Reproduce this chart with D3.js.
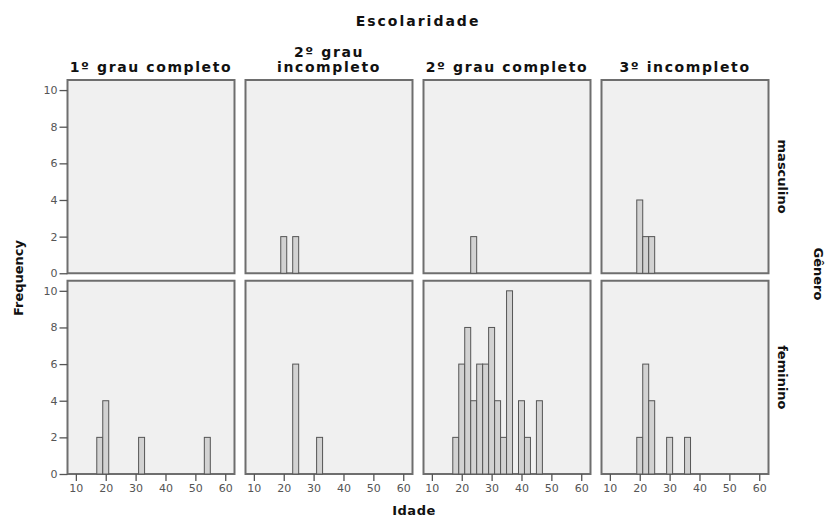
<!DOCTYPE html>
<html>
<head>
<meta charset="utf-8">
<script src="https://cdn.jsdelivr.net/npm/d3@7"></script>
<style>
  html, body { margin: 0; padding: 0; background: #ffffff; }
  svg { display: block; font-family: "DejaVu Sans", Verdana, sans-serif; }
</style>
</head>
<body>
<svg id="chart" width="833" height="522"></svg>
<script>
// ---- data ----
const escolaridade = ["1º grau completo", "2º grau|incompleto", "2º grau completo", "3º incompleto"];
const generos = ["masculino", "feminino"];
const idadeBins = [18, 20, 22, 24, 26, 28, 30, 32, 34, 36, 38, 40, 42, 44, 46, 48, 50, 52, 54];
const masc1 = [0, 0, 0, 0, 0, 0, 0, 0, 0, 0, 0, 0, 0, 0, 0, 0, 0, 0, 0];
const masc2 = [0, 2, 0, 2, 0, 0, 0, 0, 0, 0, 0, 0, 0, 0, 0, 0, 0, 0, 0];
const masc3 = [0, 0, 0, 2, 0, 0, 0, 0, 0, 0, 0, 0, 0, 0, 0, 0, 0, 0, 0];
const masc4 = [0, 4, 2, 2, 0, 0, 0, 0, 0, 0, 0, 0, 0, 0, 0, 0, 0, 0, 0];
const fem1  = [2, 4, 0, 0, 0, 0, 0, 2, 0, 0, 0, 0, 0, 0, 0, 0, 0, 0, 2];
const fem2  = [0, 0, 0, 6, 0, 0, 0, 2, 0, 0, 0, 0, 0, 0, 0, 0, 0, 0, 0];
const fem3  = [2, 6, 8, 4, 6, 6, 8, 4, 2, 10, 0, 4, 2, 0, 4, 0, 0, 0, 0];
const fem4  = [0, 2, 6, 4, 0, 0, 2, 0, 0, 2, 0, 0, 0, 0, 0, 0, 0, 0, 0];
const xTicks = [10, 20, 30, 40, 50, 60];
const yTicks = [0, 2, 4, 6, 8, 10];
const binWidth = 2;

const counts = {
  masculino: [masc1, masc2, masc3, masc4],
  feminino:  [fem1, fem2, fem3, fem4]
};

// ---- layout ----
const svg = d3.select("#chart");
const col = d3.scaleBand().domain(escolaridade).range([67.5, 768.5]).paddingInner(0.0618).paddingOuter(0);
const row = d3.scaleBand().domain(generos).range([80, 474]).paddingInner(0.0373).paddingOuter(0);
const bw = col.bandwidth(), bh = row.bandwidth();
const x = d3.scaleLinear().domain([7.2, 63.1]).range([0, bw]);
const y = d3.scaleLinear().domain([0, 10.55]).range([bh, 0]);

const titleFont = "bold 14px 'DejaVu Sans'";

generos.forEach((g, ri) => {
  escolaridade.forEach((e, ci) => {
    const p = svg.append("g").attr("transform", `translate(${col(e)},${row(g)})`);
    p.append("rect").attr("x", 0).attr("y", 0).attr("width", bw).attr("height", bh)
      .attr("fill", "#f0f0f0").attr("stroke", "#6e6e6e").attr("stroke-width", 2);
    const data = idadeBins.map((c, i) => ({ c, n: counts[g][ci][i] })).filter(d => d.n > 0);
    p.selectAll("rect.bar").data(data).enter().append("rect").attr("class", "bar")
      .attr("x", d => x(d.c - binWidth / 2))
      .attr("width", d => x(d.c + binWidth / 2) - x(d.c - binWidth / 2))
      .attr("y", d => y(d.n))
      .attr("height", d => y(0) - y(d.n))
      .attr("fill", "#d2d2d2").attr("stroke", "#555555").attr("stroke-width", 1);

    if (ci === 0) {
      const ya = p.append("g").call(d3.axisLeft(y).tickValues(yTicks).tickSize(8).tickPadding(2).tickFormat(d3.format("d")));
      ya.select(".domain").remove();
      ya.selectAll("line").attr("stroke", "#555").attr("stroke-width", 1.3);
      ya.selectAll("text").attr("fill", "#555").style("font", "11px 'DejaVu Sans'");
    }
    if (ri === 1) {
      const xa = p.append("g").attr("transform", `translate(0,${bh})`)
        .call(d3.axisBottom(x).tickValues(xTicks).tickSize(7).tickPadding(3).tickFormat(d3.format("d")));
      xa.select(".domain").remove();
      xa.selectAll("line").attr("stroke", "#555").attr("stroke-width", 1.3);
      xa.selectAll("text").attr("fill", "#555").style("font", "11px 'DejaVu Sans'");
    }
  });
});

// column titles
escolaridade.forEach(e => {
  const lines = e.split("|");
  const cx = col(e) + bw / 2;
  const t = svg.append("text").attr("x", cx).attr("y", 72 - (lines.length - 1) * 15)
    .attr("text-anchor", "middle").style("font", titleFont).style("letter-spacing", "1.6px").attr("fill", "#111");
  lines.forEach((l, i) => t.append("tspan").attr("x", cx).attr("dy", i === 0 ? 0 : 15).text(l));
});

// row labels
generos.forEach(g => {
  const cy = row(g) + bh / 2;
  svg.append("text").attr("transform", `translate(778,${cy}) rotate(90)`)
    .attr("text-anchor", "middle").style("font", "bold 13px 'DejaVu Sans'").attr("fill", "#111").text(g);
});

// overall titles
svg.append("text").attr("x", 418).attr("y", 26).attr("text-anchor", "middle")
  .style("font", titleFont).style("letter-spacing", "2px").attr("fill", "#111").text("Escolaridade");
svg.append("text").attr("x", 414).attr("y", 515).attr("text-anchor", "middle")
  .style("font", "bold 13px 'DejaVu Sans'").style("letter-spacing", "0.5px").attr("fill", "#111").text("Idade");
svg.append("text").attr("transform", "translate(23,278) rotate(-90)").attr("text-anchor", "middle")
  .style("font", "bold 13px 'DejaVu Sans'").attr("fill", "#111").text("Frequency");
svg.append("text").attr("transform", "translate(814,274) rotate(90)").attr("text-anchor", "middle")
  .style("font", "bold 13px 'DejaVu Sans'").attr("fill", "#111").text("Gênero");
</script>
</body>
</html>
